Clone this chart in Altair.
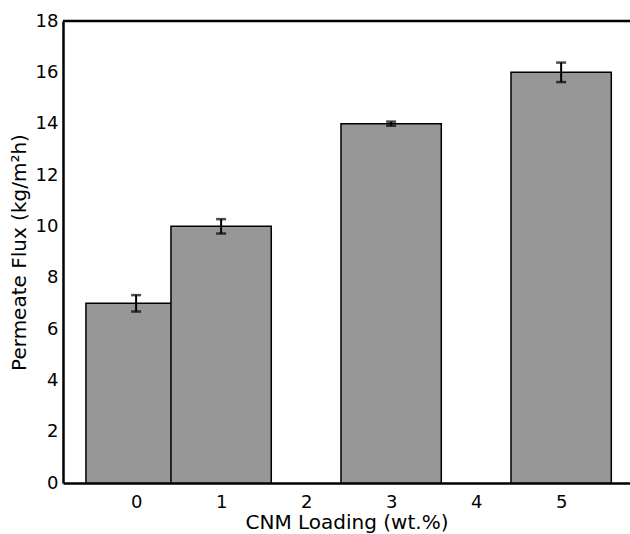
import altair as alt
import pandas as pd

loading = [0, 1, 3, 5]
flux = [7.0, 10.0, 14.0, 16.0]
err = [0.32, 0.28, 0.08, 0.38]
x_ticks = [0, 1, 2, 3, 4, 5]
y_ticks = [0, 2, 4, 6, 8, 10, 12, 14, 16, 18]

df = pd.DataFrame({"loading": loading, "flux": flux, "err": err})

FONT = "DejaVu Sans"
HALF = 0.59

base = alt.Chart(df).transform_calculate(
    x0=f"datum.loading - {HALF}",
    x1=f"datum.loading + {HALF}",
    lo="datum.flux - datum.err",
    hi="datum.flux + datum.err",
)

xscale = alt.Scale(domain=[-0.86, 5.81], nice=False, zero=False)
yscale = alt.Scale(domain=[0, 18], nice=False, zero=True)

x_axis = alt.Axis(values=x_ticks, title="CNM Loading (wt.%)", labelPadding=10,
                  titlePadding=1, format="d")
y_axis = alt.Axis(values=y_ticks, title="Permeate Flux (kg/m²h)", labelPadding=5,
                  titlePadding=6, format="d")

bars = base.mark_rect(fill="#979797", stroke="black", strokeWidth=1.5).encode(
    x=alt.X("x0:Q", scale=xscale, axis=x_axis),
    x2="x1:Q",
    y=alt.Y("flux:Q", scale=yscale, axis=y_axis),
    y2=alt.datum(0),
)

err_line = base.mark_rule(color="black", strokeWidth=2).encode(
    x="loading:Q", y="lo:Q", y2="hi:Q"
)
cap_hi = base.mark_tick(orient="horizontal", color="black", size=10, thickness=2.5).encode(
    x="loading:Q", y="hi:Q"
)
cap_lo = base.mark_tick(orient="horizontal", color="black", size=10, thickness=2.5).encode(
    x="loading:Q", y="lo:Q"
)

top_line = alt.Chart(pd.DataFrame({"top": [18]})).mark_rule(
    color="black", strokeWidth=2.5
).encode(y=alt.Y("top:Q"))

chart = (
    alt.layer(bars, err_line, cap_hi, cap_lo, top_line)
    .properties(
        width=567,
        height=462,
        autosize=alt.AutoSizeParams(type="none"),
        padding={"left": 63, "top": 21, "right": 0, "bottom": 51},
    )
    .configure_view(stroke=None)
    .configure_axis(
        grid=False,
        ticks=False,
        domainColor="black",
        domainWidth=2.5,
        labelFont=FONT,
        labelFontSize=18,
        labelColor="black",
        titleFont=FONT,
        titleFontSize=20,
        titleFontWeight="normal",
        titleColor="black",
    )
)

chart.save("out.html", embed_options={"renderer": "svg", "actions": False})
